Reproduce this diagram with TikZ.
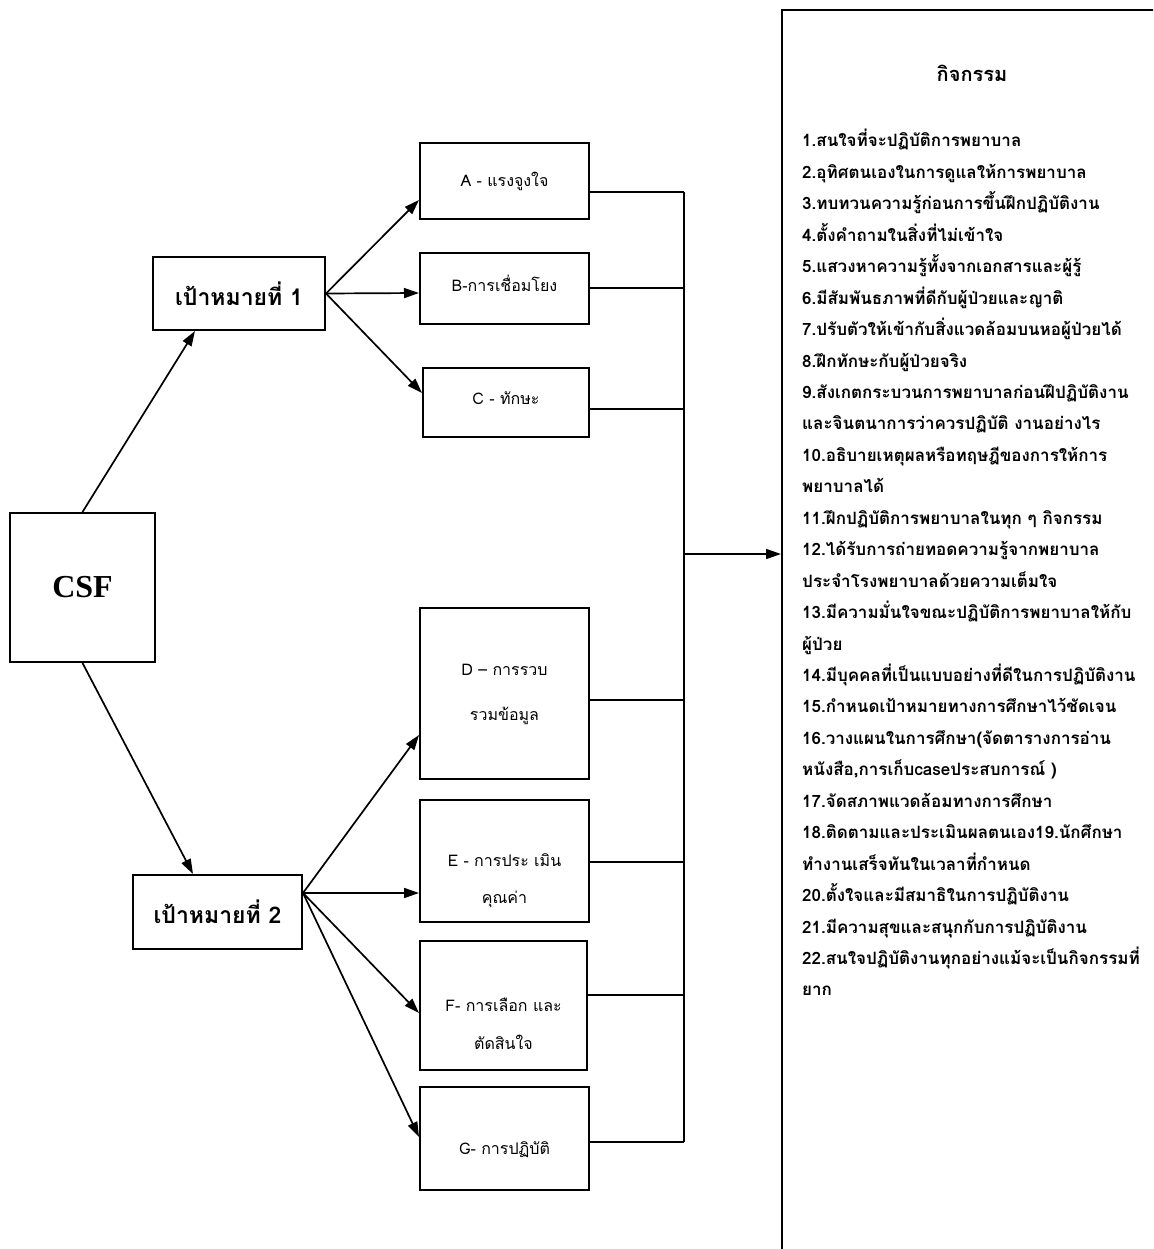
\documentclass[tikz,border=0pt]{standalone}
\usepackage{fontspec}
\setmainfont{Liberation Sans}
\newfontfamily\thaifont[Script=Thai]{Loma}
\newfontfamily\csffont{Liberation Serif}
\usetikzlibrary{arrows.meta,calc,positioning}
\tikzset{
  fbox/.style={draw, line width=2pt, inner sep=0pt},
  arr/.style={-{Triangle[length=15pt,width=10pt]}, line width=1.7pt},
  link/.style={line width=1.6pt},
  boxtxt/.style={font=\thaifont\fontsize{16}{19}\selectfont, align=center, inner sep=0pt},
  goaltxt/.style={font=\thaifont\bfseries\fontsize{23}{26}\selectfont},
  actline/.style={font=\thaifont\bfseries\fontsize{17}{19}\selectfont, anchor=base west, inner sep=0pt}
}

\begin{document}
\begin{tikzpicture}[x=1pt, y=-1pt]
\useasboundingbox (0,0) rectangle (1153,1249);
\clip (0,0) rectangle (1153,1249);

% CSF and the two goals
\node[fbox, minimum width=145pt, minimum height=149pt, font=\csffont\bfseries\fontsize{32}{32}\selectfont] (csf) at (82.5,587.5) {CSF};
\node[fbox, minimum width=172pt, minimum height=73pt, goaltxt] (goal1) at (239,293.5) {เป้าหมายที่ 1};
\node[fbox, minimum width=169pt, minimum height=74pt, goaltxt] (goal2) at (217.5,912) {เป้าหมายที่ 2};

% factor boxes
\foreach \n/\cx/\cy/\w/\h in {boxa/504.5/181/169/76, boxb/504.5/288.5/169/71, boxc/506/402.5/166/69,
    boxd/504.5/693.5/169/171, boxe/504.5/861/169/122, boxf/503.5/1005.5/167/129, boxg/504.5/1138.5/169/103}
  \node[fbox, minimum width=\w pt, minimum height=\h pt] (\n) at (\cx,\cy) {};

\node[boxtxt] (ta) at (504.5,181) {A - แรงจูงใจ};
\node[boxtxt] (tb) at (504.5,283) {B-การเชื่อมโยง};
\node[boxtxt] (tc) at (506,398) {C - ทักษะ};
\node[boxtxt, font=\thaifont\fontsize{16}{45}\selectfont] (td) at (504.5,694.5) {D – การรวบ\\รวมข้อมูล};
\node[boxtxt, font=\thaifont\fontsize{16}{37}\selectfont] (te) at (504.5,881) {E - การประ เมิน\\คุณค่า};
\node[boxtxt, font=\thaifont\fontsize{16}{38}\selectfont] (tf) at (503.5,1024) {F- การเลือก และ\\ตัดสินใจ};
\node[boxtxt] (tg) at (504.5,1150) {G- การปฏิบัติ};

% arrows
\draw[arr] (csf.north) -- ($(goal1.south)+(-44,0)$);
\draw[arr] (csf.south) -- ($(goal2.north)+(-24.5,0)$);
\foreach \n/\dy in {boxa/19, boxb/4.5, boxc/-9.5}
  \draw[arr] (goal1.east) -- ($(\n.west)+(0,\dy)$);
\coordinate (g2out) at ($(goal2.east)+(0,-19)$);
\foreach \n/\dy in {boxd/41.5, boxe/32, boxf/7.5, boxg/-1.5}
  \draw[arr] (g2out) -- ($(\n.west)+(0,\dy)$);

% bus to the activities
\coordinate (bustop) at (684,192);
\coordinate (busbot) at (684,1142);
\draw[link] (bustop) -- (busbot);
\foreach \n/\dy in {boxa/11, boxb/-0.5, boxc/6.5, boxd/6.5, boxe/1, boxf/-10.5, boxg/3.5}
  \draw[link] ($(\n.east)+(0,\dy)$) coordinate (tmp) -- (tmp -| bustop);

\node[fbox, anchor=north west, minimum width=420pt, minimum height=1300pt] (acts) at (781,9) {};
\coordinate (busout) at (684,554);
\draw[arr] (busout) -- (busout -| acts.west);

% activities list
\node[font=\thaifont\bfseries\fontsize{20}{22}\selectfont] (acttitle) at (972,73) {กิจกรรม};
\foreach \t [count=\i from 0] in {1.สนใจที่จะปฏิบัติการพยาบาล, 2.อุทิศตนเองในการดูแลให้การพยาบาล,
    3.ทบทวนความรู้ก่อนการขึ้นฝึกปฏิบัติงาน, 4.ตั้งคำถามในสิ่งที่ไม่เข้าใจ,
    5.แสวงหาความรู้ทั้งจากเอกสารและผู้รู้, 6.มีสัมพันธภาพที่ดีกับผู้ป่วยและญาติ,
    7.ปรับตัวให้เข้ากับสิ่งแวดล้อมบนหอผู้ป่วยได้, 8.ฝึกทักษะกับผู้ป่วยจริง,
    9.สังเกตกระบวนการพยาบาลก่อนฝึปฏิบัติงาน, และจินตนาการว่าควรปฏิบัติ งานอย่างไร,
    10.อธิบายเหตุผลหรือทฤษฎีของการให้การ, พยาบาลได้,
    11.ฝึกปฏิบัติการพยาบาลในทุก ๆ กิจกรรม, 12.ได้รับการถ่ายทอดความรู้จากพยาบาล,
    ประจำโรงพยาบาลด้วยความเต็มใจ, 13.มีความมั่นใจขณะปฏิบัติการพยาบาลให้กับ,
    ผู้ป่วย, 14.มีบุคคลที่เป็นแบบอย่างที่ดีในการปฏิบัติงาน,
    15.กำหนดเป้าหมายทางการศึกษาไว้ชัดเจน, 16.วางแผนในการศึกษา(จัดตารางการอ่าน,
    {หนังสือ,การเก็บcaseประสบการณ์ )}, 17.จัดสภาพแวดล้อมทางการศึกษา,
    18.ติดตามและประเมินผลตนเอง19.นักศึกษา, ทำงานเสร็จทันในเวลาที่กำหนด,
    20.ตั้งใจและมีสมาธิในการปฏิบัติงาน, 21.มีความสุขและสนุกกับการปฏิบัติงาน,
    22.สนใจปฏิบัติงานทุกอย่างแม้จะเป็นกิจกรรมที่, ยาก}
  \node[actline] (act\i) at (802, 147+\i*31.44) {\t};
\end{tikzpicture}
\end{document}
